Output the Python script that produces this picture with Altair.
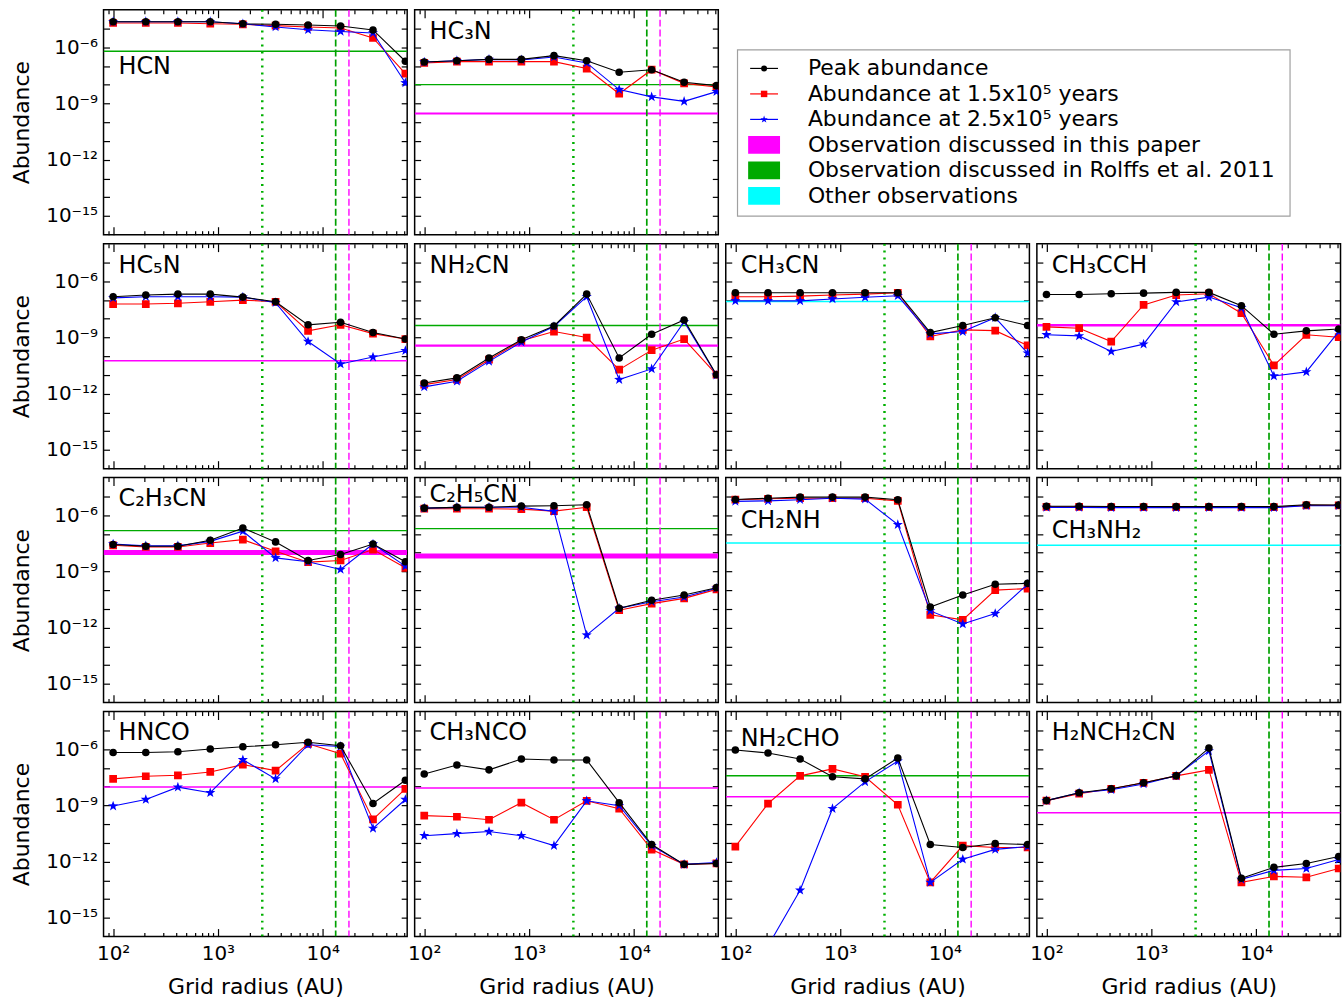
import altair as alt
import pandas as pd

FONT = "DejaVu Sans"

# ---------------- data ----------------
RADII = [100, 205, 415, 845, 1730, 3550, 7250, 14800, 30200, 61500]
X_DOMAIN = [81, 64000]
Y_DOMAIN = [1e-16, 1e-4]

X_MAJOR = [100, 1000, 10000]
X_MINOR = [90, 200, 300, 400, 500, 600, 700, 800, 900,
           2000, 3000, 4000, 5000, 6000, 7000, 8000, 9000,
           20000, 30000, 40000, 50000, 60000]
X_LABELS = {2: "10²", 3: "10³", 4: "10⁴"}
Y_TICKS = [1e-15, 1e-14, 1e-13, 1e-12, 1e-11, 1e-10, 1e-9, 1e-8, 1e-7, 1e-6, 1e-5]
Y_LABELS = {-6: "10⁻⁶", -9: "10⁻⁹", -12: "10⁻¹²", -15: "10⁻¹⁵"}

# vertical reference radii (AU)
V_DOTTED = 2650
V_DASHED_GREEN = 13300
V_DASHED_MAGENTA = 17800

# log10 abundances: peak, at 1.5e5 yr, at 2.5e5 yr
HCN_PEAK = [-4.64, -4.64, -4.64, -4.64, -4.75, -4.78, -4.82, -4.87, -5.08, -6.75]
HCN_T15 = [-4.71, -4.71, -4.71, -4.75, -4.78, -4.85, -4.92, -4.98, -5.51, -7.41]
HCN_T25 = [-4.64, -4.64, -4.64, -4.64, -4.75, -4.92, -5.07, -5.16, -5.24, -7.90]

HC3N_PEAK = [-6.79, -6.72, -6.65, -6.65, -6.45, -6.72, -7.34, -7.20, -7.87, -8.05]
HC3N_T15 = [-6.84, -6.77, -6.77, -6.77, -6.77, -7.14, -8.48, -7.20, -7.93, -8.12]
HC3N_T25 = [-6.79, -6.72, -6.65, -6.68, -6.52, -6.84, -8.26, -8.65, -8.89, -8.37]

HC5N_PEAK = [-6.83, -6.74, -6.69, -6.69, -6.85, -7.10, -8.33, -8.19, -8.74, -9.09]
HC5N_T15 = [-7.22, -7.22, -7.18, -7.10, -7.01, -7.10, -8.65, -8.33, -8.80, -9.09]
HC5N_T25 = [-6.89, -6.83, -6.83, -6.83, -6.85, -7.15, -9.22, -10.42, -10.05, -9.71]

NH2CN_PEAK = [-11.43, -11.16, -10.10, -9.13, -8.39, -6.69, -10.10, -8.83, -8.07, -10.99]
NH2CN_T15 = [-11.52, -11.25, -10.19, -9.18, -8.69, -9.01, -10.72, -9.68, -9.09, -10.99]
NH2CN_T25 = [-11.64, -11.34, -10.28, -9.25, -8.42, -6.83, -11.25, -10.68, -8.16, -11.02]

CH3CN_PEAK = [-6.62, -6.62, -6.62, -6.62, -6.62, -6.62, -8.74, -8.37, -7.95, -8.37]
CH3CN_T15 = [-6.83, -6.83, -6.80, -6.74, -6.69, -6.62, -8.95, -8.60, -8.64, -9.43]
CH3CN_T25 = [-7.05, -7.05, -7.05, -6.95, -6.86, -6.78, -8.81, -8.69, -7.95, -9.84]

CH3CCH_PEAK = [-6.71, -6.71, -6.67, -6.64, -6.60, -6.60, -7.31, -8.83, -8.65, -8.55]
CH3CCH_T15 = [-8.44, -8.51, -9.22, -7.27, -6.74, -6.67, -7.71, -10.49, -8.86, -8.99]
CH3CCH_T25 = [-8.86, -8.92, -9.75, -9.36, -7.11, -6.85, -7.42, -11.06, -10.84, -8.69]

C2H3CN_PEAK = [-7.57, -7.66, -7.66, -7.34, -6.69, -7.43, -8.42, -8.10, -7.54, -8.49]
C2H3CN_T15 = [-7.61, -7.70, -7.70, -7.49, -7.31, -7.93, -8.51, -8.42, -7.84, -8.81]
C2H3CN_T25 = [-7.54, -7.64, -7.64, -7.40, -6.86, -8.28, -8.49, -8.90, -7.54, -8.72]

C2H5CN_PEAK = [-5.63, -5.59, -5.58, -5.52, -5.50, -5.45, -10.97, -10.54, -10.26, -9.87]
C2H5CN_T15 = [-5.66, -5.66, -5.66, -5.68, -5.79, -5.58, -11.07, -10.72, -10.44, -9.96]
C2H5CN_T25 = [-5.63, -5.59, -5.58, -5.58, -5.80, -12.40, -10.97, -10.62, -10.37, -9.90]

CH2NH_PEAK = [-5.17, -5.10, -5.04, -5.04, -5.04, -5.18, -10.90, -10.26, -9.69, -9.64]
CH2NH_T15 = [-5.18, -5.13, -5.10, -5.10, -5.10, -5.24, -11.32, -11.59, -10.00, -9.92]
CH2NH_T25 = [-5.27, -5.24, -5.18, -5.10, -5.15, -6.51, -11.11, -11.81, -11.25, -9.69]

CH3NH2_PEAK = [-5.53, -5.53, -5.54, -5.54, -5.55, -5.55, -5.54, -5.55, -5.45, -5.46]
CH3NH2_T15 = [-5.56, -5.56, -5.57, -5.57, -5.58, -5.58, -5.57, -5.58, -5.48, -5.48]
CH3NH2_T25 = [-5.59, -5.59, -5.60, -5.60, -5.60, -5.60, -5.60, -5.60, -5.50, -5.50]

HNCO_PEAK = [-6.18, -6.18, -6.14, -6.00, -5.88, -5.77, -5.64, -5.82, -8.90, -7.66]
HNCO_T15 = [-7.59, -7.45, -7.40, -7.22, -6.83, -7.15, -5.72, -6.25, -9.75, -8.12]
HNCO_T25 = [-9.04, -8.69, -8.03, -8.33, -6.57, -7.59, -5.77, -5.86, -10.23, -8.69]

CH3NCO_PEAK = [-7.33, -6.85, -7.11, -6.53, -6.58, -6.58, -8.86, -11.09, -12.15, -12.10]
CH3NCO_T15 = [-9.55, -9.61, -9.77, -8.86, -9.77, -8.76, -9.18, -11.36, -12.15, -12.10]
CH3NCO_T25 = [-10.62, -10.51, -10.40, -10.62, -11.15, -8.76, -9.02, -11.15, -12.15, -12.05]

NH2CHO_PEAK = [-6.05, -6.21, -6.53, -7.48, -7.59, -6.48, -11.09, -11.25, -11.04, -11.09]
NH2CHO_T15 = [-11.20, -8.91, -7.43, -7.06, -7.48, -8.97, -13.11, -11.15, -11.25, -11.25]
NH2CHO_T25 = [-20.0, -16.5, -13.53, -9.18, -7.75, -6.64, -13.11, -11.88, -11.35, -11.20]

H2NCH2CN_PEAK = [-8.75, -8.33, -8.12, -7.80, -7.43, -5.95, -12.89, -12.31, -12.10, -11.73]
H2NCH2CN_T15 = [-8.75, -8.38, -8.12, -7.80, -7.43, -7.11, -13.11, -12.79, -12.84, -12.37]
H2NCH2CN_T25 = [-8.75, -8.33, -8.17, -7.86, -7.43, -6.10, -12.95, -12.47, -12.37, -11.89]

# observed abundances: (value, source)
OBS = {
    "HCN": [(6e-7, "rolffs")],
    "HC3N": [(1e-8, "rolffs"), (2.9e-10, "paper")],
    "HC5N": [(5.7e-11, "paper")],
    "NH2CN": [(4.3e-9, "rolffs"), (3.6e-10, "paper")],
    "CH3CN": [(8.3e-8, "other")],
    "CH3CCH": [(4.5e-9, "paper")],
    "C2H3CN": [(1.5e-7, "rolffs"), (1.0e-8, "paper")],
    "C2H5CN": [(1.9e-7, "rolffs"), (6.5e-9, "paper")],
    "CH2NH": [(3.3e-8, "other")],
    "CH3NH2": [(2.5e-8, "other")],
    "HNCO": [(9.6e-9, "paper")],
    "CH3NCO": [(8.5e-9, "paper")],
    "NH2CHO": [(3.8e-8, "rolffs"), (2.9e-9, "paper")],
    "H2NCH2CN": [(4.0e-10, "paper")],
}

SPECIES = [
    ("HCN", "HCN", HCN_PEAK, HCN_T15, HCN_T25),
    ("HC3N", "HC₃N", HC3N_PEAK, HC3N_T15, HC3N_T25),
    ("HC5N", "HC₅N", HC5N_PEAK, HC5N_T15, HC5N_T25),
    ("NH2CN", "NH₂CN", NH2CN_PEAK, NH2CN_T15, NH2CN_T25),
    ("CH3CN", "CH₃CN", CH3CN_PEAK, CH3CN_T15, CH3CN_T25),
    ("CH3CCH", "CH₃CCH", CH3CCH_PEAK, CH3CCH_T15, CH3CCH_T25),
    ("C2H3CN", "C₂H₃CN", C2H3CN_PEAK, C2H3CN_T15, C2H3CN_T25),
    ("C2H5CN", "C₂H₅CN", C2H5CN_PEAK, C2H5CN_T15, C2H5CN_T25),
    ("CH2NH", "CH₂NH", CH2NH_PEAK, CH2NH_T15, CH2NH_T25),
    ("CH3NH2", "CH₃NH₂", CH3NH2_PEAK, CH3NH2_T15, CH3NH2_T25),
    ("HNCO", "HNCO", HNCO_PEAK, HNCO_T15, HNCO_T25),
    ("CH3NCO", "CH₃NCO", CH3NCO_PEAK, CH3NCO_T15, CH3NCO_T25),
    ("NH2CHO", "NH₂CHO", NH2CHO_PEAK, NH2CHO_T15, NH2CHO_T25),
    ("H2NCH2CN", "H₂NCH₂CN", H2NCH2CN_PEAK, H2NCH2CN_T15, H2NCH2CN_T25),
]

LEGEND_LABELS = [
    "Peak abundance",
    "Abundance at 1.5x10⁵ years",
    "Abundance at 2.5x10⁵ years",
    "Observation discussed in this paper",
    "Observation discussed in Rolffs et al. 2011",
    "Other observations",
]

# ---------------- styles ----------------
W, H = 305, 226
OBS_COLOR = {"paper": "#ff00ff", "rolffs": "#00aa00", "other": "#00ffff"}
OBS_WIDTH = {"HC3N": [1.2, 2.0], "NH2CN": [1.5, 2.2], "CH3CCH": [2.5],
             "C2H3CN": [1.2, 5.0], "C2H5CN": [1.2, 5.0]}
LABEL_Y = {"HCN": 58, "C2H5CN": 18, "CH2NH": 44, "CH3NH2": 54, "NH2CHO": 28}
STAR = ("M0,-1L0.235,-0.324L0.951,-0.309L0.380,0.124L0.588,0.809L0,0.4"
        "L-0.588,0.809L-0.380,0.124L-0.951,-0.309L-0.235,-0.324Z")
PATCH = "M-1.78,-1L1.78,-1L1.78,1L-1.78,1Z"
SERIES_STYLE = [  # drawn in this order
    ("t15", "#ff0000", "square", 60),
    ("t25", "#0000ff", STAR, 115),
    ("peak", "#000000", "circle", 58),
]

X_SCALE = alt.Scale(type="log", domain=X_DOMAIN, nice=False)
Y_SCALE = alt.Scale(type="log", domain=Y_DOMAIN, nice=False)


def label_expr(mapping):
    e = "''"
    for k, v in mapping.items():
        e = f"(round(log(datum.value)/LN10) == {k}) ? '{v}' : {e}"
    return e


def x_axis(orient, values, size, labels=False, title=None):
    kw = dict(orient=orient, values=values, tickSize=size, offset=-size,
              domain=False, grid=False, ticks=True, tickColor="black",
              tickWidth=1.2, labels=labels, title=title, minExtent=0)
    if labels:
        kw.update(labelExpr=label_expr(X_LABELS), labelFontSize=20, labelFont=FONT,
                  labelColor="black", labelPadding=7.5, labelFlush=False,
                  labelOverlap=False)
    if title:
        kw.update(titleFontSize=22, titleFont=FONT, titleFontWeight="normal",
                  titleColor="black", titlePadding=13)
    return alt.Axis(**kw)


def y_axis(orient, labels=False, title=None):
    kw = dict(orient=orient, values=Y_TICKS, tickSize=6, offset=-6,
              domain=False, grid=False, ticks=True, tickColor="black",
              tickWidth=1.2, labels=labels, title=title, minExtent=0)
    if labels:
        kw.update(labelExpr=label_expr(Y_LABELS), labelFontSize=20, labelFont=FONT,
                  labelColor="black", labelPadding=6, labelOverlap=False,
                  labelFlush=False)
    if title:
        kw.update(titleFontSize=22, titleFont=FONT, titleFontWeight="normal",
                  titleColor="black", titlePadding=12)
    return alt.Axis(**kw)


def panel(key, label, peak, t15, t25, show_left, show_bottom):
    series = {"peak": peak, "t15": t15, "t25": t25}
    layers = []

    # observation levels
    widths = OBS_WIDTH.get(key, [1.5] * len(OBS[key]))
    obs_df = pd.DataFrame({
        "value": [v for v, _ in OBS[key]],
        "color": [OBS_COLOR[s] for _, s in OBS[key]],
        "width": widths,
    })
    layers.append(alt.Chart(obs_df).mark_rule(clip=True).encode(
        y=alt.Y("value:Q", scale=Y_SCALE, axis=None),
        color=alt.Color("color:N", scale=None),
        strokeWidth=alt.StrokeWidth("width:Q", scale=None),
    ))

    # vertical reference lines
    for val, col, dash, sw in [(V_DOTTED, "#00b000", [2, 5], 2.5),
                               (V_DASHED_GREEN, "#00a000", [7, 3], 1.7),
                               (V_DASHED_MAGENTA, "#ff00ff", [7, 3], 1.4)]:
        layers.append(alt.Chart(pd.DataFrame({"r": [val]})).mark_rule(
            color=col, strokeDash=dash, strokeWidth=sw, clip=True).encode(
            x=alt.X("r:Q", scale=X_SCALE, axis=None)))

    # model series
    for name, col, shape, size in SERIES_STYLE:
        df = pd.DataFrame({"r": RADII, "a": [10 ** v for v in series[name]]})
        enc = dict(x=alt.X("r:Q", scale=X_SCALE, axis=None),
                   y=alt.Y("a:Q", scale=Y_SCALE, axis=None))
        layers.append(alt.Chart(df).mark_line(color=col, strokeWidth=1.1,
                                              clip=True).encode(**enc))
        layers.append(alt.Chart(df).mark_point(color=col, shape=shape, size=size,
                                               filled=True, opacity=1,
                                               clip=True).encode(**enc))

    # species label
    layers.append(alt.Chart(pd.DataFrame({"t": [label]})).mark_text(
        align="left", baseline="middle", fontSize=24, font=FONT, color="black").encode(
        x=alt.value(15), y=alt.value(LABEL_Y.get(key, 22)), text="t:N"))

    # axis carriers (invisible)
    carrier = pd.DataFrame({"r": [1000], "a": [1e-10]})
    axes = [
        (x_axis("bottom", X_MAJOR, 8, show_bottom, "Grid radius (AU)" if show_bottom else None),
         y_axis("left", show_left, "Abundance" if show_left else None)),
        (x_axis("bottom", X_MINOR, 4), y_axis("right")),
        (x_axis("top", X_MAJOR, 8), None),
        (x_axis("top", X_MINOR, 4), None),
    ]
    for xa, ya in axes:
        layers.append(alt.Chart(carrier).mark_point(opacity=0, size=1).encode(
            x=alt.X("r:Q", scale=X_SCALE, axis=xa),
            y=alt.Y("a:Q", scale=Y_SCALE, axis=ya),
        ))

    return alt.layer(*layers).resolve_axis(x="independent", y="independent").properties(
        width=W, height=H)


P = {s[0]: s for s in SPECIES}


def mk(key, left, bottom):
    s = P[key]
    return panel(s[0], s[1], s[2], s[3], s[4], left, bottom)


# ---------------- legend ----------------
leg_df = pd.DataFrame({
    "idx": list(range(6)),
    "label": LEGEND_LABELS,
    "color": ["#000000", "#ff0000", "#0000ff", "#ff00ff", "#00aa00", "#00ffff"],
    "shape": ["circle", "square", STAR, PATCH, PATCH, PATCH],
    "size": [36, 42, 60, 324, 324, 324],
    "line": [1, 1, 1, 0, 0, 0],
})
LY = alt.Scale(domain=[0, 5], range=[19, 147])
leg_lines = alt.Chart(leg_df).transform_filter("datum.line == 1").mark_rule(
    strokeWidth=1.2).encode(
    x=alt.value(13), x2=alt.value(41),
    y=alt.Y("idx:Q", scale=LY, axis=None),
    color=alt.Color("color:N", scale=None))
leg_marks = alt.Chart(leg_df).mark_point(filled=True, opacity=1).encode(
    x=alt.value(27),
    y=alt.Y("idx:Q", scale=LY, axis=None),
    color=alt.Color("color:N", scale=None),
    shape=alt.Shape("shape:N", scale=None),
    size=alt.Size("size:Q", scale=None))
leg_text = alt.Chart(leg_df).mark_text(align="left", baseline="middle", fontSize=22,
                                       font=FONT, color="black").encode(
    x=alt.value(71),
    y=alt.Y("idx:Q", scale=LY, axis=None),
    text="label:N")
legend = alt.layer(leg_lines, leg_marks, leg_text).properties(
    width=555, height=167,
    view=alt.ViewBackground(stroke="#a0a0a0", strokeWidth=1.2))

spacer = alt.Chart(pd.DataFrame({"s": [0]})).mark_point(opacity=0, size=1).encode(
    x=alt.value(10), y=alt.value(10)).properties(
    width=555, height=38, view=alt.ViewBackground(stroke="transparent"))

row1 = alt.hconcat(
    alt.hconcat(mk("HCN", True, False), mk("HC3N", False, False), spacing=3.5),
    alt.vconcat(spacer, legend, spacing=0),
    spacing=16.5)
row2 = alt.hconcat(mk("HC5N", True, False), mk("NH2CN", False, False),
                   mk("CH3CN", False, False), mk("CH3CCH", False, False), spacing=3.5)
row3 = alt.hconcat(mk("C2H3CN", True, False), mk("C2H5CN", False, False),
                   mk("CH2NH", False, False), mk("CH3NH2", False, False), spacing=3.5)
row4 = alt.hconcat(mk("HNCO", True, True), mk("CH3NCO", False, True),
                   mk("NH2CHO", False, True), mk("H2NCH2CN", False, True),
                   spacing=7.5, bounds="flush")

chart = alt.vconcat(row1, row2, row3, row4, spacing=5).properties(
    padding={"left": 10, "top": 5.5, "right": 2, "bottom": 0},
    background="white",
).configure(font=FONT).configure_view(stroke="black", strokeWidth=1.5)

chart.save("out.html", embed_options={"renderer": "svg", "actions": False})
